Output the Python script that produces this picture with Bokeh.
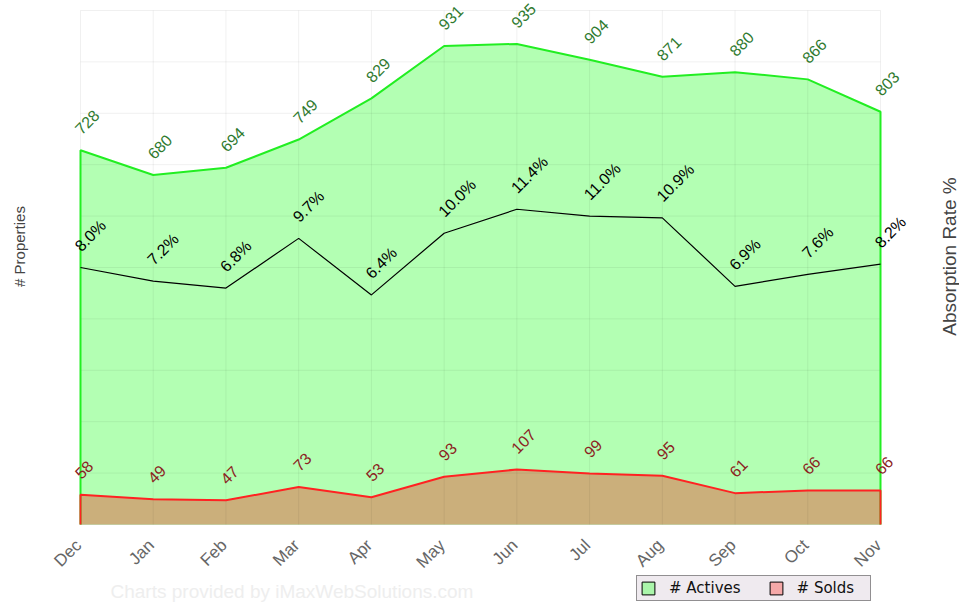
import math
from bokeh.plotting import figure
from bokeh.models import (Range1d, ColumnDataSource, LabelSet, Label, Legend, LegendItem)
from bokeh.embed import file_html
from bokeh.resources import INLINE
from bokeh.core.properties import value

# ---------------- data ----------------
months = ["Dec", "Jan", "Feb", "Mar", "Apr", "May", "Jun", "Jul", "Aug", "Sep", "Oct", "Nov"]
actives = [728, 680, 694, 749, 829, 931, 935, 904, 871, 880, 866, 803]
solds = [58, 49, 47, 73, 53, 93, 107, 99, 95, 61, 66, 66]
rates = [8.0, 7.2, 6.8, 9.7, 6.4, 10.0, 11.4, 11.0, 10.9, 6.9, 7.6, 8.2]
y_ticks = [0, 100, 200, 300, 400, 500, 600, 700, 800, 900, 1000]   # left axis (# Properties)
rate_min, rate_max = -7, 23                                          # right axis (Absorption Rate %)

# ---------------- layout (pixels) ----------------
W, H = 959, 602
PX_LEFT, PX_RIGHT = 80, 880      # plot area in canvas pixels
PX_TOP, PX_BOTTOM = 10, 524
FONT = "Liberation Sans"

idx = list(range(len(months)))
n = idx[-1]
sx = (PX_RIGHT - PX_LEFT) / n
sy = (PX_BOTTOM - PX_TOP) / (y_ticks[-1] - y_ticks[0])
sr = (PX_BOTTOM - PX_TOP) / (rate_max - rate_min)

x_range = Range1d(idx[0] - PX_LEFT / sx, n + (W - PX_RIGHT) / sx)
y_range = Range1d(y_ticks[0] - (H - PX_BOTTOM) / sy, y_ticks[-1] + PX_TOP / sy)
r_range = Range1d(rate_min - (H - PX_BOTTOM) / sr, rate_max + PX_TOP / sr)

src = ColumnDataSource(dict(x=idx, actives=actives, solds=solds, rates=rates,
                            months=months,
                            a_txt=[str(v) for v in actives],
                            s_txt=[str(v) for v in solds],
                            r_txt=["%.1f%%" % r for r in rates],
                            zero=[0] * len(idx),
                            gtop=[y_ticks[-1]] * len(idx)))
gsrc = ColumnDataSource(dict(y=y_ticks, x0=[idx[0]] * len(y_ticks), x1=[n] * len(y_ticks)))

p = figure(width=W, height=H, output_backend="svg", toolbar_location=None,
           x_range=x_range, y_range=y_range,
           x_axis_location=None, y_axis_location=None,
           min_border=0, min_border_left=0, min_border_right=0,
           min_border_top=0, min_border_bottom=0)
p.title.visible = False
p.outline_line_color = None
p.grid.visible = False
p.background_fill_color = "white"
p.border_fill_color = "white"
p.extra_y_ranges = {"rate": r_range}

# ---------------- areas ----------------
p.varea(x="x", y1="zero", y2="actives", source=src, fill_color="#b3ffb3")
p.varea(x="x", y1="zero", y2="solds", source=src, fill_color="#cbaf7b")

# ---------------- grid ----------------
p.segment(x0="x", y0="zero", x1="x", y1="gtop", source=src, line_color="black", line_alpha=0.06, line_width=1)
p.segment(x0="x0", y0="y", x1="x1", y1="y", source=gsrc, line_color="black", line_alpha=0.06, line_width=1)

# ---------------- lines ----------------
xs_edge = [idx[0]] + idx + [n]
p.line(xs_edge, [0] + actives + [0], line_color="#22ee22", line_width=2)
p.line(xs_edge, [0] + solds + [0], line_color="#ff2222", line_width=2)
p.line(x="x", y="rates", source=src, y_range_name="rate", line_color="black", line_width=1.2)

# ---------------- value labels ----------------
ang = math.pi / 4
common = dict(angle=ang, text_align="left", text_baseline="middle",
              text_font=value(FONT), text_font_size="16px", x_offset=-3, y_offset=19)
p.add_layout(LabelSet(x="x", y="actives", text="a_txt", source=src, text_color="#2f7a2f", **common))
p.add_layout(LabelSet(x="x", y="solds", text="s_txt", source=src, text_color="#8b2222", **common))
p.add_layout(LabelSet(x="x", y="rates", text="r_txt", source=src, y_range_name="rate",
                      text_color="black", **common))

# ---------------- category (x tick) labels ----------------
p.add_layout(LabelSet(x="x", y="zero", text="months", source=src, angle=ang,
                      text_align="right", text_baseline="middle",
                      text_font=value(FONT), text_font_size="17px", text_color="#666666",
                      x_offset=-2, y_offset=-18))

# ---------------- axis titles ----------------
p.add_layout(Label(x=19, y=H - 246, x_units="screen", y_units="screen", text="# Properties",
                   angle=math.pi / 2, text_align="center", text_baseline="middle",
                   text_font=FONT, text_font_size="15px", text_color="#444444"))
p.add_layout(Label(x=949, y=H - 256, x_units="screen", y_units="screen", text="Absorption Rate %",
                   angle=math.pi / 2, text_align="center", text_baseline="middle",
                   text_font=FONT, text_font_size="19px", text_color="#444444"))

# ---------------- watermark ----------------
p.add_layout(Label(x=110, y=H - 591, x_units="screen", y_units="screen",
                   text="Charts provided by iMaxWebSolutions.com",
                   text_align="left", text_baseline="middle",
                   text_font=FONT, text_font_size="19px", text_color="#eeeeee"))

# ---------------- legend (swatches from hidden renderers) ----------------
r_a = p.quad(left="x", right="x", top="actives", bottom="zero", source=src,
             fill_color="#aaf5aa", line_color="black", line_width=1, visible=False)
r_s = p.quad(left="x", right="x", top="solds", bottom="zero", source=src,
             fill_color="#f5a8a8", line_color="black", line_width=1, visible=False)
legend = Legend(items=[LegendItem(label="# Actives", renderers=[r_a]),
                       LegendItem(label="# Solds", renderers=[r_s])],
                location=(636, 1), orientation="horizontal",
                glyph_width=16, glyph_height=16, label_height=15, label_width=70,
                label_standoff=13, spacing=27, padding=3, margin=0,
                label_text_font="DejaVu Sans", label_text_font_size="15px",
                label_text_color="#111111", label_text_baseline="middle",
                inactive_fill_alpha=0,
                background_fill_color="#efeaef", background_fill_alpha=1,
                border_line_color="#333333", border_line_width=1.5)
p.add_layout(legend)

open("out.html", "w").write(file_html(p, INLINE))
